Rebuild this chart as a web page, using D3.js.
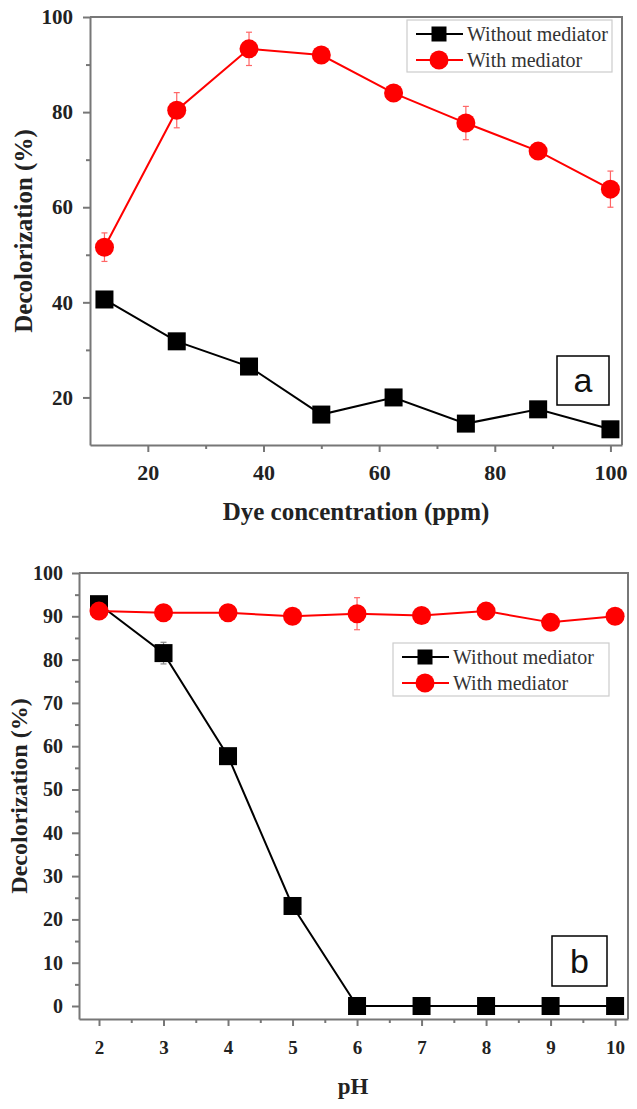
<!DOCTYPE html>
<html lang="en">
<head>
  <meta charset="utf-8">
  <script src="https://d3js.org/d3.v7.min.js"></script>
  <style>
    body { margin: 0; background: #fff; }
    .tick text { font-family: 'Liberation Serif', 'Times New Roman', serif; font-weight: bold; fill: #222; }
    .axis path, .axis line { stroke: #777; stroke-width: 2; }
    .title { font-family: 'Liberation Serif', 'Times New Roman', serif; font-weight: bold; fill: #222; }
    .legend text { font-family: 'Liberation Serif', 'Times New Roman', serif; font-size: 20px; fill: #333; }
    .panel-label { font-family: 'Liberation Sans', Arial, sans-serif; font-size: 34px; fill: #111; }
  </style>
</head>
<body>
<svg id="chart" width="637" height="1109"></svg>
<script>
  // panel a: dye concentration
  const concX = [12.5, 25, 37.5, 50, 62.5, 75, 87.5, 100];
  const concWithout = [40.6, 31.8, 26.5, 16.4, 20.0, 14.5, 17.5, 13.3];
  const concWithoutErr = [1.5, 1, 1, 1, 1, 1, 1, 1];
  const concWith = [51.6, 80.4, 93.3, 92.0, 84.0, 77.7, 71.8, 63.8];
  const concWithErr = [3, 3.7, 3.5, 1, 1, 3.5, 1, 3.8];
  const concXTicks = [20, 40, 60, 80, 100];
  const concYTicks = [20, 40, 60, 80, 100];

  // panel b: pH
  const phX = [2, 3, 4, 5, 6, 7, 8, 9, 10];
  const phWithout = [92.8, 81.5, 57.7, 23.1, 0, 0, 0, 0, 0];
  const phWithoutErr = [1, 2.5, 1, 1, 0, 0, 0, 0, 0];
  const phWith = [91.2, 90.8, 90.8, 90.0, 90.6, 90.2, 91.2, 88.6, 90.0];
  const phWithErr = [1, 1, 1, 1, 3.7, 1, 1, 1, 1];
  const phXTicks = [2, 3, 4, 5, 6, 7, 8, 9, 10];
  const phYTicks = [0, 10, 20, 30, 40, 50, 60, 70, 80, 90, 100];

  const seriesNames = ["Without mediator", "With mediator"];

  const svg = d3.select("#chart");

  function panel(cfg) {
    const { left, top, right, bottom } = cfg.box;
    const x = d3.scaleLinear().domain(cfg.xDomain).range([left, right]);
    const y = d3.scaleLinear().domain(cfg.yDomain).range([bottom, top]);
    const g = svg.append("g");

    // minor ticks
    g.append("g").attr("class", "axis")
      .attr("transform", `translate(0,${bottom})`)
      .call(d3.axisBottom(x).tickValues(cfg.xMinor).tickSize(4).tickFormat(""))
      .select(".domain").remove();
    g.append("g").attr("class", "axis")
      .attr("transform", `translate(${left},0)`)
      .call(d3.axisLeft(y).tickValues(cfg.yMinor).tickSize(4).tickFormat(""))
      .select(".domain").remove();

    // major axes
    const xa = g.append("g").attr("class", "axis")
      .attr("transform", `translate(0,${bottom})`)
      .call(d3.axisBottom(x).tickValues(cfg.xTicks).tickSize(7).tickSizeOuter(0));
    xa.selectAll(".tick text").attr("y", 35).attr("dy", 0).style("font-size", cfg.xTickSize + "px");
    const ya = g.append("g").attr("class", "axis")
      .attr("transform", `translate(${left},0)`)
      .call(d3.axisLeft(y).tickValues(cfg.yTicks).tickSize(7).tickSizeOuter(0));
    ya.selectAll(".tick text").attr("x", -cfg.yTickGap).style("font-size", cfg.yTickSize + "px");

    // top and right frame
    g.append("path")
      .attr("d", `M${left},${top}H${right}V${bottom}`)
      .attr("fill", "none").attr("stroke", "#777").attr("stroke-width", 2);

    // axis titles
    g.append("text").attr("class", "title")
      .attr("text-anchor", "middle").attr("dy", "0.35em")
      .style("font-size", cfg.yTitleSize + "px")
      .attr("transform", `translate(${cfg.yTitleX},${(top + bottom) / 2}) rotate(-90)`)
      .text("Decolorization (%)");
    g.append("text").attr("class", "title")
      .attr("text-anchor", "middle")
      .style("font-size", cfg.xTitleSize + "px")
      .attr("x", cfg.xTitlePos[0]).attr("y", cfg.xTitlePos[1])
      .text(cfg.xTitle);

    const series = [
      { vals: cfg.without, err: cfg.withoutErr, color: "#000", shape: "square" },
      { vals: cfg.with, err: cfg.withErr, color: "#ff0000", shape: "circle" }
    ];
    const line = d3.line().x(d => x(d[0])).y(d => y(d[1]));

    series.forEach(s => {
      const pts = cfg.xs.map((v, i) => [v, s.vals[i], s.err[i]]);
      const eb = g.append("g").attr("stroke", s.color === "#000" ? "#888" : "#ff6666").attr("stroke-width", 1.2);
      pts.filter(p => p[2] > 0).forEach(p => {
        eb.append("line").attr("x1", x(p[0])).attr("x2", x(p[0]))
          .attr("y1", y(p[1] - p[2])).attr("y2", y(p[1] + p[2]));
        [p[1] - p[2], p[1] + p[2]].forEach(v => {
          eb.append("line").attr("x1", x(p[0]) - 3).attr("x2", x(p[0]) + 3)
            .attr("y1", y(v)).attr("y2", y(v));
        });
      });
      g.append("path").datum(pts).attr("d", line)
        .attr("fill", "none").attr("stroke", s.color).attr("stroke-width", 2);
      if (s.shape === "square") {
        g.selectAll(null).data(pts).join("rect")
          .attr("x", d => x(d[0]) - 9).attr("y", d => y(d[1]) - 9)
          .attr("width", 18).attr("height", 18).attr("fill", s.color);
      } else {
        g.selectAll(null).data(pts).join("circle")
          .attr("cx", d => x(d[0])).attr("cy", d => y(d[1]))
          .attr("r", 9.5).attr("fill", s.color);
      }
    });

    // legend
    const lb = cfg.legend;
    const lg = g.append("g").attr("class", "legend");
    lg.append("rect").attr("x", lb.x).attr("y", lb.y).attr("width", lb.w).attr("height", lb.h)
      .attr("fill", "#fff").attr("stroke", "#ccc").attr("stroke-width", 1.2);
    seriesNames.forEach((name, i) => {
      const cy = lb.y + 14 + i * 26;
      const s = series[i];
      lg.append("line").attr("x1", lb.x + 9).attr("x2", lb.x + 56)
        .attr("y1", cy).attr("y2", cy).attr("stroke", s.color).attr("stroke-width", 2);
      if (s.shape === "square") {
        lg.append("rect").attr("x", lb.x + 32 - 7.5).attr("y", cy - 7.5)
          .attr("width", 15).attr("height", 15).attr("fill", s.color);
      } else {
        lg.append("circle").attr("cx", lb.x + 32).attr("cy", cy).attr("r", 9.5).attr("fill", s.color);
      }
      lg.append("text").attr("x", lb.x + 60).attr("y", cy).attr("dy", "0.35em").text(name);
    });

    // panel label
    const pl = cfg.label;
    g.append("rect").attr("x", pl.x).attr("y", pl.y).attr("width", pl.w).attr("height", pl.h)
      .attr("fill", "#fff").attr("stroke", "#000").attr("stroke-width", 1.5);
    g.append("text").attr("class", "panel-label")
      .attr("x", pl.x + pl.w / 2).attr("y", pl.y + pl.h / 2).attr("dy", "0.34em")
      .attr("text-anchor", "middle").text(pl.text);
  }

  panel({
    box: { left: 90, top: 17, right: 622, bottom: 445 },
    xDomain: [10, 102], yDomain: [10, 100],
    xTicks: concXTicks, yTicks: concYTicks,
    xMinor: [30, 50, 70, 90], yMinor: [30, 50, 70, 90],
    xTickSize: 22, yTickSize: 21, yTickGap: 17,
    xs: concX, without: concWithout, withoutErr: concWithoutErr, with: concWith, withErr: concWithErr,
    yTitleX: 23, yTitleSize: 25, xTitle: "Dye concentration (ppm)", xTitleSize: 25, xTitlePos: [356, 520],
    legend: { x: 407, y: 20, w: 205, h: 52 },
    label: { x: 557, y: 356, w: 52, h: 49, text: "a" }
  });

  panel({
    box: { left: 79, top: 573, right: 628, bottom: 1019 },
    xDomain: [1.69, 10.2], yDomain: [-3, 100],
    xTicks: phXTicks, yTicks: phYTicks,
    xMinor: [2.5, 3.5, 4.5, 5.5, 6.5, 7.5, 8.5, 9.5], yMinor: [5, 15, 25, 35, 45, 55, 65, 75, 85, 95],
    xTickSize: 19, yTickSize: 20, yTickGap: 16,
    xs: phX, without: phWithout, withoutErr: phWithoutErr, with: phWith, withErr: phWithErr,
    yTitleX: 19, yTitleSize: 24, xTitle: "pH", xTitleSize: 23, xTitlePos: [353, 1094],
    legend: { x: 393, y: 643, w: 216, h: 53 },
    label: { x: 552, y: 936, w: 55, h: 50, text: "b" }
  });
</script>
</body>
</html>
